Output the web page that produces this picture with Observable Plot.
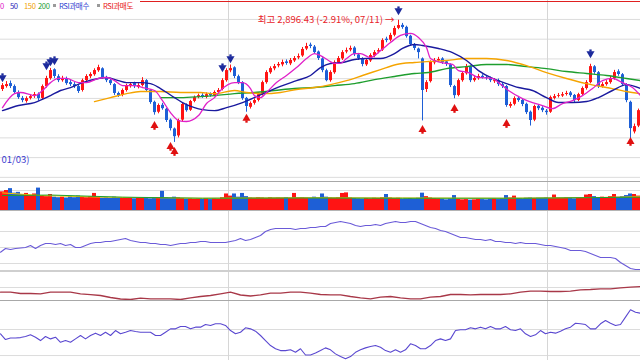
<!DOCTYPE html>
<html><head><meta charset="utf-8">
<script src="https://cdn.jsdelivr.net/npm/d3@7"></script>
<script src="https://cdn.jsdelivr.net/npm/@observablehq/plot@0.6"></script>
<style>
html,body{margin:0;padding:0;background:#fff;}
#wrap{position:relative;width:640px;height:360px;overflow:hidden;font-family:"Noto Sans CJK KR",sans-serif;background:#fff;}
#wrap svg{position:absolute;left:0;display:block;}
.hl{position:absolute;left:0;width:640px;}
.lg{position:absolute;top:0px;font-size:7.6px;line-height:11px;letter-spacing:-0.4px;white-space:nowrap;}
.sq{position:absolute;top:4px;width:3px;height:3px;background:#9a9a9a;}
</style></head><body><div id="wrap"></div>
<script>
// ---- price candles (each candle ~ 3 trading days) ----
const opens = [2545,2560,2575,2560,2530,2500,2485,2500,2510,2520,2500,2560,2600,2645,2610,2590,2600,2580,2570,2560,
2540,2590,2610,2620,2640,2650,2605,2590,2570,2525,2515,2540,2560,2575,2555,2565,2590,2540,2480,2430,
2465,2445,2390,2345,2310,2390,2465,2440,2485,2505,2515,2505,2520,2515,2530,2545,2590,2640,2655,2610,
2580,2500,2455,2475,2490,2520,2580,2630,2650,2665,2670,2685,2675,2690,2705,2715,2750,2770,2760,2735,
2700,2640,2590,2630,2680,2700,2735,2745,2755,2720,2700,2670,2690,2715,2735,2745,2800,2795,2820,2855,
2870,2860,2815,2770,2750,2700,2545,2585,2680,2690,2700,2685,2670,2560,2515,2590,2625,2660,2590,2600,
2612,2605,2600,2585,2590,2570,2560,2460,2470,2500,2490,2470,2430,2390,2460,2450,2435,2430,2500,2510,
2512,2520,2528,2515,2490,2520,2550,2580,2660,2630,2560,2570,2580,2600,2635,2620,2570,2480,2330,2360];
const highs = [2575,2585,2588,2568,2538,2510,2508,2518,2530,2528,2568,2612,2652,2650,2620,2612,2608,2590,2580,2566,
2598,2620,2630,2650,2668,2655,2612,2598,2575,2532,2548,2572,2580,2582,2575,2605,2595,2545,2486,2472,
2475,2450,2396,2350,2395,2478,2472,2490,2512,2522,2524,2528,2528,2538,2550,2600,2650,2669,2660,2618,
2585,2505,2482,2498,2528,2588,2640,2660,2672,2682,2694,2695,2702,2712,2725,2758,2779,2780,2768,2740,
2706,2648,2640,2690,2712,2742,2755,2765,2762,2728,2706,2700,2726,2742,2752,2802,2810,2830,2865,2896,
2880,2866,2820,2778,2755,2705,2590,2690,2702,2708,2706,2692,2675,2566,2598,2635,2672,2665,2612,2622,
2620,2614,2608,2600,2598,2578,2565,2480,2508,2510,2498,2476,2436,2466,2468,2458,2444,2512,2520,2525,
2530,2536,2535,2520,2526,2558,2590,2673,2666,2636,2580,2590,2612,2642,2645,2626,2575,2486,2370,2446];
const lows = [2535,2552,2550,2522,2495,2478,2476,2492,2500,2486,2494,2552,2592,2600,2580,2582,2566,2560,2550,2525,
2532,2582,2600,2612,2632,2598,2580,2565,2515,2505,2508,2532,2552,2550,2548,2558,2530,2470,2415,2422,
2440,2378,2335,2277,2300,2382,2430,2434,2478,2498,2500,2498,2506,2508,2522,2538,2582,2630,2600,2570,
2490,2430,2446,2466,2482,2512,2572,2622,2640,2655,2660,2668,2666,2682,2696,2708,2742,2752,2724,2692,
2630,2584,2582,2622,2672,2692,2726,2736,2712,2692,2660,2662,2682,2706,2726,2738,2782,2786,2812,2848,
2850,2805,2765,2742,2700,2386,2530,2578,2670,2682,2672,2662,2555,2498,2508,2582,2618,2580,2582,2592,
2598,2592,2580,2576,2560,2550,2455,2450,2462,2480,2458,2418,2360,2382,2438,2428,2415,2424,2492,2502,
2505,2512,2505,2478,2484,2512,2542,2574,2622,2550,2552,2562,2572,2592,2612,2560,2478,2284,2320,2352];
const closes = [2565,2570,2560,2530,2504,2489,2499,2509,2519,2499,2560,2601,2641,2611,2590,2601,2575,2570,2560,2535,
2590,2611,2621,2641,2656,2606,2590,2575,2525,2514,2540,2565,2570,2560,2565,2590,2540,2479,2428,2464,
2448,2388,2347,2306,2388,2469,2438,2484,2504,2514,2509,2519,2514,2530,2540,2590,2641,2651,2611,2580,
2499,2459,2474,2489,2519,2580,2631,2651,2661,2672,2682,2677,2692,2702,2712,2748,2763,2763,2732,2702,
2641,2590,2631,2682,2702,2732,2742,2753,2722,2702,2672,2692,2717,2732,2742,2793,2793,2819,2854,2869,
2859,2813,2773,2753,2732,2540,2580,2682,2692,2697,2682,2672,2565,2514,2590,2626,2661,2590,2601,2611,
2606,2601,2590,2590,2570,2560,2464,2469,2499,2489,2469,2428,2388,2459,2448,2438,2428,2504,2509,2514,
2519,2525,2514,2489,2519,2550,2580,2661,2631,2560,2570,2580,2601,2631,2621,2570,2489,2347,2357,2438];
// volume (million shares) per candle
const volumes = [700,750,820,650,680,600,640,560,620,840,560,520,600,500,480,500,470,520,480,540,
500,480,520,640,500,470,480,460,500,470,460,450,480,440,470,450,460,440,470,480,
720,480,460,500,470,450,430,440,420,430,420,440,410,430,420,480,620,540,620,500,
640,520,470,460,480,470,450,480,460,470,460,480,450,640,470,480,460,450,500,470,
620,500,470,460,480,640,660,470,450,440,430,450,440,460,450,480,600,470,450,460,
430,440,450,440,460,650,520,470,450,440,420,400,430,560,420,400,410,390,400,420,
410,400,420,430,410,440,560,470,540,450,440,460,470,450,460,460,470,450,580,460,
450,470,460,440,460,480,580,600,520,480,500,480,520,600,500,520,560,620,600,540];
// moving averages: [candle index, value]
const ma20 = [[0,2453],[3,2524],[4.5,2530],[7,2519],[8,2514],[10,2540],[12,2580],[14,2601],[16,2601],[19,2580],[21,2580],[24,2601],[26,2606],[28,2590],[30,2565],[33,2565],[35,2555],[38,2540],[40,2489],[42,2428],[44,2388],[46,2383],[49,2413],[51,2474],[53,2504],[54.5,2540],[58,2580],[60,2580],[62,2550],[63,2514],[64.5,2504],[66,2530],[68.5,2580],[71,2616],[73.5,2656],[76,2702],[78,2727],[79.5,2717],[81.5,2692],[83,2677],[84.5,2677],[86,2702],[88,2727],[89.5,2727],[92,2707],[94.5,2742],[97,2783],[99.5,2819],[102,2829],[104,2808],[106,2758],[107,2702],[109.5,2682],[112.5,2672],[114,2641],[116.5,2631],[119,2606],[122.5,2601],[124,2580],[126.5,2540],[130,2499],[132.5,2479],[135,2464],[137.5,2448],[140,2474],[142.5,2489],[145,2514],[147.5,2550],[150,2590],[152.5,2601],[155,2580],[157.5,2555],[159.5,2514]];
const ma50 = [[0,2438],[4,2464],[8,2479],[12,2514],[14.5,2540],[17,2555],[20,2580],[24,2601],[26,2606],[29,2590],[31,2580],[34.5,2580],[37,2575],[39.5,2550],[43,2504],[45,2479],[48,2453],[50,2443],[53,2438],[56,2453],[60,2479],[63.5,2509],[67,2540],[70,2565],[73.5,2590],[77,2616],[79.5,2656],[82,2677],[85,2682],[88,2697],[91,2702],[94.5,2702],[98,2727],[100,2753],[103,2773],[105,2768],[109,2753],[112.5,2732],[116,2692],[119,2641],[122.5,2601],[126,2575],[129,2555],[132.5,2540],[136,2504],[139,2479],[142.5,2479],[146,2484],[149,2504],[152.5,2540],[156,2570],[159.5,2550]];
const ma150 = [[23,2484],[27,2504],[31,2524],[34.5,2535],[39.5,2535],[44.5,2530],[49.5,2530],[53,2524],[58,2540],[61,2530],[65,2524],[69.5,2530],[73.5,2545],[78,2555],[82,2570],[86,2590],[90,2616],[94.5,2646],[98.5,2672],[103,2682],[106.5,2687],[111,2692],[116,2702],[121,2702],[126,2692],[131,2666],[136,2631],[141,2601],[146,2575],[151,2555],[156,2535],[159.5,2524]];
const ma200 = [[39.5,2504],[44.5,2504],[49.5,2509],[53,2514],[58,2524],[63,2530],[68,2540],[73,2550],[78,2555],[83,2565],[88,2575],[93,2595],[98,2611],[103,2626],[106.5,2631],[111,2651],[116,2661],[121,2672],[126,2672],[131,2661],[136,2651],[141,2636],[146,2626],[151,2616],[156,2601],[159.5,2590]];
const volMaA = [[0,660],[10,560],[25,500],[50,460],[75,480],[100,470],[125,460],[150,490],[160,520]];
const volMaB = [[0,560],[12,580],[30,500],[50,460],[75,470],[100,460],[130,460],[160,500]];
// RSI signals: [candle index, marker level]
const overbought = [[0,2606],[11,2666],[12,2687],[13,2692],[55,2656],[57,2702],[99,2945],[147,2727]];
const oversold = [[38,2362],[42,2256],[43,2230],[61,2398],[105,2342],[113,2448],[126,2372],[157,2281]];
// lower indicator panels (sampled at regular steps across the chart)
const ind1 = [94.1,98.8,97.5,98.8,99.4,100,102.5,98.8,102.5,105,105,103.8,105,102.5,103.8,100,100,102.5,105,106.3,
106.3,107.5,107.5,108.8,110,111.3,108.8,107.5,106.3,106.3,105,105,103.8,103.8,102.5,103.8,105,105,106.3,106.3,
107.5,107.5,106.3,106.3,106.3,106.3,107.5,108.8,111.3,108.8,110,112.5,115,120,122.5,123.8,123.8,123.8,123.8,122.5,
123.8,123.8,125,125,126.3,126.3,130,131.3,132.5,131.3,130,127.5,126.3,127.5,127.5,128.8,127.5,130,131.3,132.5,
131.3,131.3,132.5,132.5,130,127.5,125,123.8,121.3,120,117.5,115,112.5,112.5,111.3,110,110,108.8,110,107.5,
107.5,106.3,106.3,105,106.3,105,105,105,103.8,102.5,102.5,101.3,100,98.8,96.3,96.3,96.3,95,92.5,90,
87.5,87.5,87.5,86.3,81.3,77.5,73.8,72.5,72.5];
const ind2 = [40.6,40.6,38,38,37.4,40.6,40.6,40.6,37.4,35.6,34,30,27,26,28.6,27.4,27.4,27.4,26,29.4,
32,34,37.4,40.6,35,33,35.4,38.6,38.6,40.6,40.6,38.6,36,35.4,35.4,32,29.4,27.4,30.6,32,
29.4,27.4,27.4,30.6,32,36,36,35.4,36,36,36,37.4,40.6,42.6,42.6,42,42,42.6,45.4,46,
47.4,47.4,49.4,50.6,52];
const ind3 = [96.7,92.3,93.5,93.5,93.8,94.6,95.9,94.1,91.5,94.6,92.8,94.1,90.2,91.5,90.2,92.8,95.4,92.8,95.4,97.2,
95.4,97.9,95.4,99.2,96.7,97.9,99.2,98.5,97.9,97.9,97.9,95.4,95.4,97.9,100.5,100.5,102.3,102.3,100.5,101.8,
101.8,103.8,103.1,104.4,104.4,103.1,99.2,96.7,97.9,101.3,100.5,98.7,95.4,91.5,87.7,85.2,83.8,83.8,84.4,82.5,
85.2,80.4,80.4,81.9,83.8,85.9,84.4,81.3,79.2,77.5,79.2,82.5,84.4,85.9,86.9,87.7,86.4,83.8,82.5,84.4,
82.5,84.4,89,87.7,85.2,85.2,87.7,91.5,92.8,91.5,92.8,99.2,99.8,99.8,101.3,100.5,101.8,100.5,102.3,100.5,
100.5,102.3,99.8,99.2,100.5,96.7,94.6,95.9,99.2,96.7,97.9,97.2,98.7,100.5,101.8,104.8,104.4,103.8,100.5,100.5,
104.4,106.9,104.8,103.1,103.8,109.5,115.2,113.3,112.5];
const ind1Step = 1.25, ind2Step = 2.5, ind3Step = 1.25; // candles per sample
const priceGrid = [2100,2200,2300,2400,2500,2600,2700,2800,2900];
const volGrid = [750];
const ind1Grid = [80,100,120];
const ind2Grid = [50];
const ind3Grid = [80,100];
const yearBreaks = [57, 136.75]; // 2024-01, 2025-01
const peak = {t: 99.5, p: 2896, label: "최고 2,896.43 (-2.91%, 07/11) →"};
const trough = {t: 0, p: 2190, label: "01/03)"};
const legendLabels = ["0","50","150","200","RSI과매수","RSI과매도"];
const legendColors = ["#e020c8","#2a2ab8","#f0a000","#1e9e2e","#2f3fd0","#e82020"];

// ---- build ----
const RED = "#ff1414", BLUE = "#1e5fd6";
const candles = closes.map((c, i) => ({t: i + 0.5, o: opens[i], h: highs[i], l: lows[i], c, v: volumes[i], up: c >= opens[i]}));
const col = d => d.up ? RED : BLUE;
const pt = a => a.map(([t, v]) => ({t: t + 0.5, v}));
const ser = (a, step) => a.map((v, k) => ({t: k * step, v}));
const FONT = "'Noto Sans CJK KR', sans-serif";
const wrap = document.getElementById("wrap");
const X = {domain: [0, 160], axis: null};
function add(top, height, y, marks) {
  const svg = Plot.plot({width: 640, height, margin: 0, x: X, y: {...y, axis: null}, style: {fontFamily: FONT, background: "transparent", overflow: "visible"}, marks});
  svg.style.top = top + "px";
  wrap.appendChild(svg);
}
function hline(top, color, h = 1, left = 0) {
  const d = document.createElement("div");
  d.className = "hl";
  d.style.top = top + "px"; d.style.height = h + "px"; d.style.background = color; d.style.left = left + "px"; d.style.width = (640 - left) + "px";
  wrap.appendChild(d);
}
const GRID = "#dcdcdc";
const vlines = Plot.ruleX(yearBreaks, {stroke: "#d6d6d6"});

// main price panel
add(0, 181, {domain: [2079, 2996]}, [
  Plot.ruleY(priceGrid, {stroke: GRID}),
  vlines,
  Plot.ruleX(candles, {x: "t", y1: "l", y2: "h", stroke: col, strokeWidth: 1}),
  Plot.ruleX(candles, {x: "t", y1: "o", y2: "c", stroke: col, strokeWidth: 3}),
  Plot.line(pt(ma200), {x: "t", y: "v", stroke: "#1e9e2e", strokeWidth: 1.4, curve: "monotone-x"}),
  Plot.line(pt(ma150), {x: "t", y: "v", stroke: "#f5a400", strokeWidth: 1.4, curve: "monotone-x"}),
  Plot.line(pt(ma50), {x: "t", y: "v", stroke: "#1a1a9e", strokeWidth: 1.4, curve: "monotone-x"}),
  Plot.line(pt(ma20), {x: "t", y: "v", stroke: "#e020c8", strokeWidth: 1.3, curve: "monotone-x"}),
  Plot.dot(pt(overbought), {x: "t", y: "v", symbol: "triangle", rotate: 180, r: 3, fill: "#1c2a9c", stroke: "none"}),
  Plot.dot(pt(overbought), {x: "t", y: "v", symbol: "square", r: 1.3, dy: -3, fill: "#1c2a9c", stroke: "none"}),
  Plot.dot(pt(oversold), {x: "t", y: "v", symbol: "triangle", r: 3, fill: "#e01010", stroke: "none"}),
  Plot.dot(pt(oversold), {x: "t", y: "v", symbol: "square", r: 1.3, dy: 3, fill: "#e01010", stroke: "none"}),
  Plot.text([peak], {x: "t", y: "p", text: "label", textAnchor: "end", dx: -4, fill: "#e8242a", fontSize: 9.5}),
  Plot.text([trough], {x: "t", y: "p", text: "label", textAnchor: "start", dx: 1, fill: "#3a3ad0", fontSize: 9.5})
]);
hline(1, "#e02020", 1, 140);
hline(181, "#a8a8a8", 1);

// volume panel
add(182, 28, {domain: [0, 1050]}, [
  Plot.ruleY(volGrid, {stroke: GRID}),
  vlines,
  Plot.rectY(candles, {x1: d => d.t - 0.5, x2: d => d.t + 0.5, y: "v", fill: col, inset: 0}),
  Plot.line(pt(volMaA), {x: "t", y: "v", stroke: "#f5c400", strokeWidth: 1}),
  Plot.line(pt(volMaB), {x: "t", y: "v", stroke: "#1e9e2e", strokeWidth: 1})
]);
hline(210, "#b4b4b4", 1);

// indicator panel 1
add(211, 59, {domain: [71.25, 145]}, [
  Plot.ruleY(ind1Grid, {stroke: GRID}),
  vlines,
  Plot.line(ser(ind1, ind1Step), {x: "t", y: "v", stroke: "#6a5ad8", strokeWidth: 1.1})
]);
hline(270, "#cfcfcf", 2);

// indicator panel 2
add(272, 28, {domain: [24, 80]}, [
  Plot.ruleY(ind2Grid, {stroke: GRID}),
  vlines,
  Plot.line(ser(ind2, ind2Step), {x: "t", y: "v", stroke: "#a83848", strokeWidth: 1.3})
]);
hline(300, "#a8a8a8", 1);

// indicator panel 3
add(301, 59, {domain: [76.2, 121.5]}, [
  Plot.ruleY(ind3Grid, {stroke: GRID}),
  vlines,
  Plot.line(ser(ind3, ind3Step), {x: "t", y: "v", stroke: "#5a48d0", strokeWidth: 1.1})
]);

// legend (placed as in the reference's top strip)
const legendLeft = [0, 10, 24, 38, 59, 103];
const squareLeft = [53, 97];
legendLabels.forEach((s, k) => {
  const sp = document.createElement("div");
  sp.className = "lg"; sp.textContent = s; sp.style.color = legendColors[k]; sp.style.left = legendLeft[k] + "px";
  wrap.appendChild(sp);
});
squareLeft.forEach(x => { const q = document.createElement("div"); q.className = "sq"; q.style.left = x + "px"; wrap.appendChild(q); });
</script></body></html>
